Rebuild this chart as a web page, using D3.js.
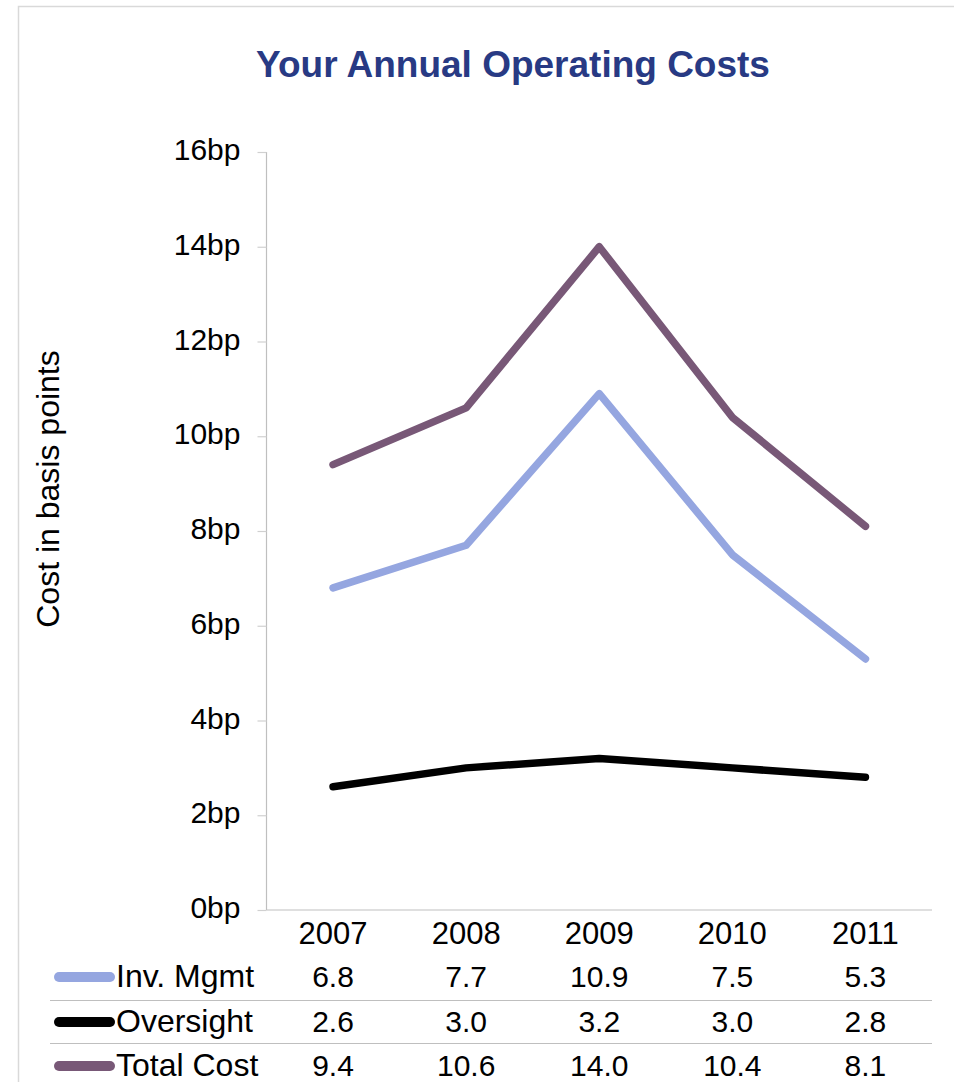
<!DOCTYPE html>
<html>
<head>
<meta charset="utf-8">
<script src="https://cdn.jsdelivr.net/npm/d3@7"></script>
<style>
  html, body { margin: 0; padding: 0; background: #fff; }
  svg { display: block; font-family: "Liberation Sans", Arial, sans-serif; }
</style>
</head>
<body>
<svg id="chart" width="954" height="1082"></svg>
<script>
// Annual operating costs, in basis points
const years = ["2007", "2008", "2009", "2010", "2011"];
const invMgmt = [6.8, 7.7, 10.9, 7.5, 5.3];
const oversight = [2.6, 3.0, 3.2, 3.0, 2.8];
const totalCost = [9.4, 10.6, 14.0, 10.4, 8.1];
const seriesNames = ["Inv. Mgmt", "Oversight", "Total Cost"];
const yTicks = [0, 2, 4, 6, 8, 10, 12, 14, 16];

const colors = ["#95a6e0", "#000000", "#785877"];
const series = [invMgmt, oversight, totalCost].map((vals, i) => ({
  name: seriesNames[i], values: vals, color: colors[i]
}));

const svg = d3.select("#chart");
const W = 954, H = 1082;
const plot = { left: 266.5, right: 932, top: 152, bottom: 910 };

// frame
svg.append("path")
  .attr("d", `M18.5,${H} V6.5 H${W}`)
  .attr("fill", "none").attr("stroke", "#d9d9d9").attr("stroke-width", 1.5);

// title
svg.append("text")
  .attr("x", 513).attr("y", 77)
  .attr("text-anchor", "middle")
  .attr("font-size", 37).attr("font-weight", "bold")
  .attr("fill", "#283a84")
  .text("Your Annual Operating Costs");

const x = d3.scaleBand().domain(years).range([plot.left, plot.right]);
const y = d3.scaleLinear().domain([0, 16]).range([plot.bottom, plot.top]);

// y axis
const yAxis = d3.axisLeft(y).tickValues(yTicks).tickSize(9).tickPadding(17)
  .tickFormat(d => d + "bp");
const gy = svg.append("g").attr("transform", `translate(${plot.left},0)`).call(yAxis);
gy.select(".domain").attr("stroke", "#bfbfbf").attr("stroke-width", 1.2)
  .attr("d", `M0,${plot.top}V${plot.bottom}`);
gy.selectAll(".tick line").attr("stroke", "#d0d0d0").attr("stroke-width", 1.2);
gy.selectAll(".tick text").attr("font-size", 30).attr("fill", "#000")
  .attr("dy", "0.25em")
  .attr("font-family", "'Liberation Sans', Arial, sans-serif");

// x axis baseline
svg.append("line")
  .attr("x1", plot.left).attr("x2", plot.right)
  .attr("y1", plot.bottom).attr("y2", plot.bottom)
  .attr("stroke", "#bfbfbf").attr("stroke-width", 1.2);

// y axis title
svg.append("text")
  .attr("transform", `translate(59,489) rotate(-90)`)
  .attr("text-anchor", "middle")
  .attr("font-size", 32).attr("fill", "#000")
  .text("Cost in basis points");

// year labels
svg.append("g").selectAll("text").data(years).join("text")
  .attr("x", d => x(d) + x.bandwidth() / 2)
  .attr("y", 944)
  .attr("text-anchor", "middle")
  .attr("font-size", 31).attr("fill", "#000")
  .text(d => d);

// lines
const line = d3.line()
  .x((d, i) => x(years[i]) + x.bandwidth() / 2)
  .y(d => y(d));

svg.append("g").selectAll("path").data(series).join("path")
  .attr("d", d => line(d.values))
  .attr("fill", "none")
  .attr("stroke", d => d.color)
  .attr("stroke-width", 7.5)
  .attr("stroke-linejoin", "round")
  .attr("stroke-linecap", "round");

// data table
const rowBase = [987, 1032, 1076];
const sepY = [1000.5, 1043.5, 1087.5];
const table = svg.append("g");
series.forEach((s, r) => {
  const cy = rowBase[r] - 10;
  table.append("line")
    .attr("x1", 59).attr("x2", 110)
    .attr("y1", cy).attr("y2", cy)
    .attr("stroke", s.color).attr("stroke-width", 10)
    .attr("stroke-linecap", "round");
  table.append("text")
    .attr("x", 116).attr("y", rowBase[r])
    .attr("font-size", 32).attr("fill", "#000")
    .text(s.name);
  table.selectAll(null).data(s.values).join("text")
    .attr("x", (d, i) => x(years[i]) + x.bandwidth() / 2)
    .attr("y", rowBase[r])
    .attr("text-anchor", "middle")
    .attr("font-size", 30).attr("fill", "#000")
    .text(d => d.toFixed(1));
  table.append("line")
    .attr("x1", 50).attr("x2", plot.right)
    .attr("y1", sepY[r]).attr("y2", sepY[r])
    .attr("stroke", "#bfbfbf").attr("stroke-width", 1.2);
});
</script>
</body>
</html>
